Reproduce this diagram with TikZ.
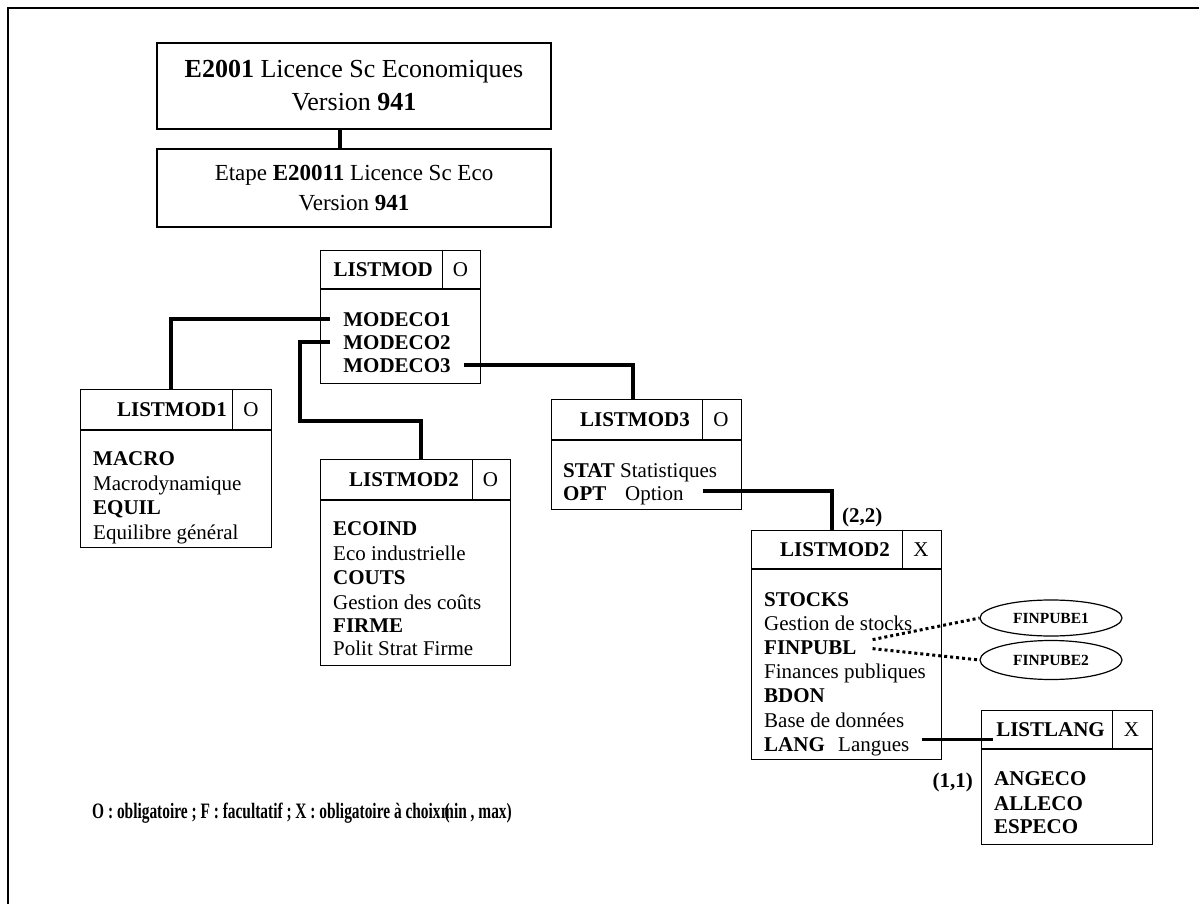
\documentclass[tikz,border=0pt]{standalone}
\usepackage{fontspec}
\setmainfont{Liberation Serif}
\usetikzlibrary{shapes.geometric,calc}

\begin{document}
\begin{tikzpicture}[x=1pt,y=-1pt,
  frame/.style={line width=2pt},
  boxline/.style={draw,line width=1.3pt,inner sep=0pt},
  rule/.style={line width=1.3pt},
  link/.style={line width=3.8pt},
  dotlink/.style={line width=3pt,dash pattern=on 3pt off 3pt},
  txt/.style={inner sep=0pt,anchor=base west,font=\fontsize{21}{24}\selectfont},
  ctxt/.style={inner sep=0pt,anchor=base,font=\fontsize{21}{24}\selectfont\bfseries},
  hd/.style={inner sep=0pt,anchor=base east,font=\fontsize{21}{24}\selectfont\bfseries},
  flag/.style={inner sep=0pt,anchor=base,font=\fontsize{21}{24}\selectfont},
  big/.style={boxline,align=center},
  oval/.style={draw,ellipse,line width=1.2pt,inner sep=0pt,font=\fontsize{15.5}{18}\selectfont\bfseries},
  lbl/.style={inner sep=0pt,font=\fontsize{21}{24}\selectfont\bfseries},
  legend/.style={inner sep=0pt,anchor=base west,font=\fontsize{22}{24}\selectfont\bfseries}
]
\useasboundingbox (0,0) rectangle (1199,904);
\fill[white] (0,0) rectangle (1199,904);

% outer frame
\draw[frame] (8,904) -- (8,8) -- (1199,8);

% diploma and stage
\node[big,minimum width=394pt,minimum height=86pt,font=\fontsize{26}{33}\selectfont] (b1) at (354,86)
  {\textbf{E2001} Licence Sc Economiques\\Version \textbf{941}};
\node[big,minimum width=394pt,minimum height=78pt,font=\fontsize{23}{30}\selectfont] (b2) at (354,188)
  {Etape \textbf{E20011} Licence Sc Eco\\Version \textbf{941}};
\draw[link] ([xshift=-14pt]b1.south) -- ([xshift=-14pt]b2.north);

% LISTMOD
\node[boxline,minimum width=160pt,minimum height=133pt,anchor=north west] (lm) at (320,250) {};
\draw[rule] ($(lm.north west)+(0,39)$) -- ($(lm.north east)+(0,39)$);
\draw[rule] ($(lm.north east)+(-39,0)$) -- ($(lm.north east)+(-39,39)$);
\node[hd] (lmh) at (433,276.5) {LISTMOD};
\node[flag] (lmf) at (460.5,276.5) {O};
\node[ctxt] (m1) at (397,326) {MODECO1};
\node[ctxt] (m2) at (397,349) {MODECO2};
\node[ctxt] (m3) at (397,372) {MODECO3};

% LISTMOD1
\node[boxline,minimum width=191pt,minimum height=158pt,anchor=north west] (lm1) at (80,389) {};
\draw[rule] ($(lm1.north west)+(0,41)$) -- ($(lm1.north east)+(0,41)$);
\draw[rule] ($(lm1.north east)+(-40,0)$) -- ($(lm1.north east)+(-40,41)$);
\node[hd] (lm1h) at (227,416.5) {LISTMOD1};
\node[flag] (lm1f) at (251,416.5) {O};
\node[txt] (a1) at (93,465) {\textbf{MACRO}};
\node[txt] (a2) at (93,490) {Macrodynamique};
\node[txt] (a3) at (93,514) {\textbf{EQUIL}};
\node[txt] (a4) at (93,539) {Equilibre général};

% LISTMOD2 (O)
\node[boxline,minimum width=190pt,minimum height=206pt,anchor=north west] (lm2) at (320,459) {};
\draw[rule] ($(lm2.north west)+(0,41)$) -- ($(lm2.north east)+(0,41)$);
\draw[rule] ($(lm2.north east)+(-39,0)$) -- ($(lm2.north east)+(-39,41)$);
\node[hd] (lm2h) at (459,486.5) {LISTMOD2};
\node[flag] (lm2f) at (490.5,486.5) {O};
\node[txt] (c1) at (333,535) {\textbf{ECOIND}};
\node[txt] (c2) at (333,560) {Eco industrielle};
\node[txt] (c3) at (333,584) {\textbf{COUTS}};
\node[txt] (c4) at (333,609) {Gestion des coûts};
\node[txt] (c5) at (333,632) {\textbf{FIRME}};
\node[txt] (c6) at (333,655) {Polit Strat Firme};

% LISTMOD3
\node[boxline,minimum width=190pt,minimum height=110pt,anchor=north west] (lm3) at (551,399) {};
\draw[rule] ($(lm3.north west)+(0,41)$) -- ($(lm3.north east)+(0,41)$);
\draw[rule] ($(lm3.north east)+(-40,0)$) -- ($(lm3.north east)+(-40,41)$);
\node[hd] (lm3h) at (690,426.5) {LISTMOD3};
\node[flag] (lm3f) at (721,426.5) {O};
\node[txt] (s1) at (563,477) {\textbf{STAT} Statistiques};
\node[txt] (opt) at (563,500) {\textbf{OPT}};
\node[txt] (optx) at (625,500) {Option};

% LISTMOD2 (X)
\node[boxline,minimum width=190pt,minimum height=229pt,anchor=north west] (lmx) at (751,530) {};
\draw[rule] ($(lmx.north west)+(0,39)$) -- ($(lmx.north east)+(0,39)$);
\draw[rule] ($(lmx.north east)+(-40,0)$) -- ($(lmx.north east)+(-40,39)$);
\node[hd] (lmxh) at (890,556.5) {LISTMOD2};
\node[flag] (lmxf) at (921,556.5) {X};
\node[txt] (x1) at (764,606) {\textbf{STOCKS}};
\node[txt] (x2) at (764,630.2) {Gestion de stocks};
\node[txt] (fp) at (764,654.4) {\textbf{FINPUBL}};
\node[txt] (x4) at (764,678.6) {Finances publiques};
\node[txt] (x5) at (764,702.8) {\textbf{BDON}};
\node[txt] (x6) at (764,727) {Base de données};
\node[txt] (lang) at (764,751.2) {\textbf{LANG}};
\node[txt] (langx) at (838,751.2) {Langues};

% LISTLANG
\node[boxline,minimum width=171pt,minimum height=134pt,anchor=north west] (ll) at (981,710) {};
\draw[rule] ($(ll.north west)+(0,39)$) -- ($(ll.north east)+(0,39)$);
\draw[rule] ($(ll.north east)+(-41,0)$) -- ($(ll.north east)+(-41,39)$);
\node[hd] (llh) at (1105,736.5) {LISTLANG};
\node[flag] (llf) at (1131.5,736.5) {X};
\node[txt] (g1) at (994,785) {\textbf{ANGECO}};
\node[txt] (g2) at (994,810) {\textbf{ALLECO}};
\node[txt] (g3) at (994,833) {\textbf{ESPECO}};

% sub-elements of FINPUBL
\node[oval,minimum width=142pt,minimum height=36pt] (e1) at (1051,618) {FINPUBE1};
\node[oval,minimum width=142pt,minimum height=39pt] (e2) at (1051,660) {FINPUBE2};

% cardinalities
\node[lbl,anchor=base west] (card22) at (842,522) {(2,2)};
\node[lbl,anchor=base east] (card11) at (973,787) {(1,1)};

% connectors
\coordinate (k2) at (300,421);
\draw[link] ([xshift=-13pt]m1.west) -| ([xshift=-5.5pt]lm1.north);
\draw[link] ([xshift=-13pt]m2.west) -| (k2) -| ([xshift=5pt]lm2.north);
\draw[link] ([xshift=13pt]m3.east) -| ([xshift=-14pt]lm3.north);
\draw[link] ([xshift=19pt,yshift=4pt]optx.east) -| ([xshift=-15pt]lmx.north);
\draw[link] ([xshift=12pt,yshift=7pt]langx.east) -- ([xshift=12pt,yshift=7pt]langx.east -| ll.west);
\draw[dotlink] ([xshift=16pt,yshift=8pt]fp.east) -- (e1.west);
\draw[dotlink] ([xshift=16pt,yshift=-1pt]fp.east) -- (e2.west);

% legend
\node[legend] (leg1) at (92,818)
  {\scalebox{0.7}[1]{O : obligatoire ; F : facultatif ; X : obligatoire à choix (}};
\node[legend] (leg2) at (441,818) {\scalebox{0.7}[1]{min , max)}};
\end{tikzpicture}
\end{document}
